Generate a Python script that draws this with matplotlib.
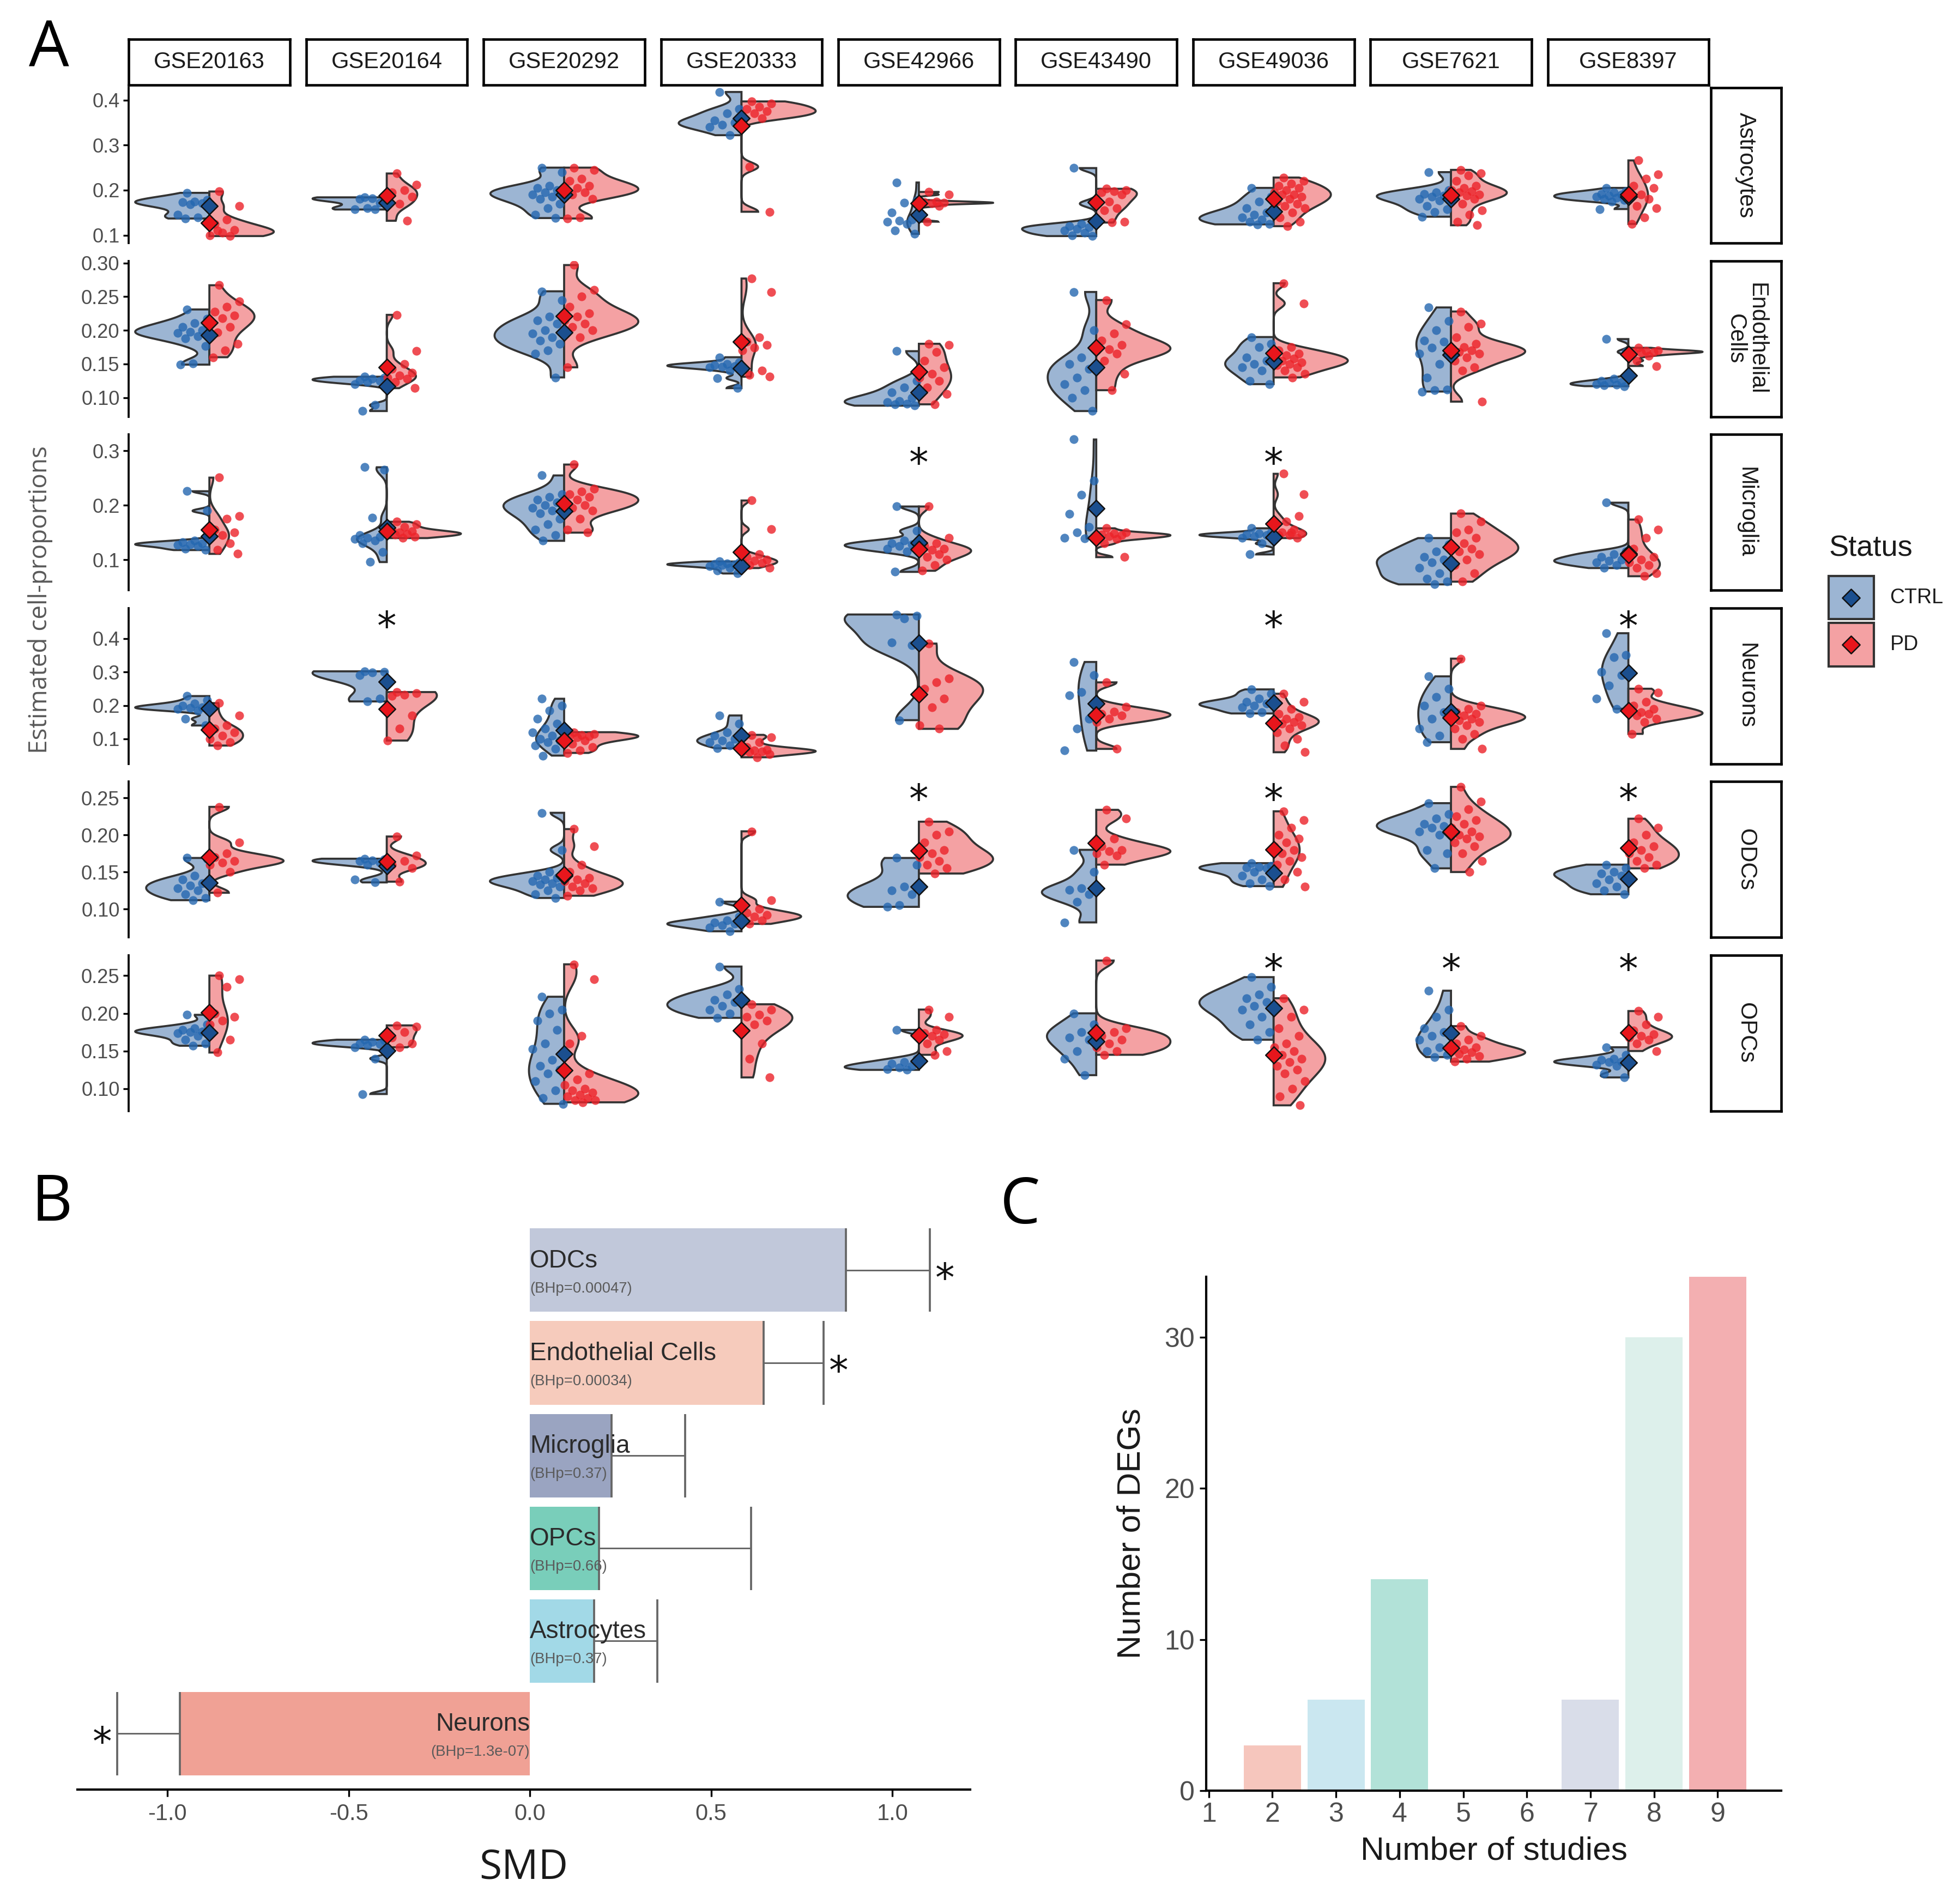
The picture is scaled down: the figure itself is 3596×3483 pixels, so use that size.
import numpy as np
import matplotlib
matplotlib.use("Agg")
import matplotlib.pyplot as plt
from matplotlib import font_manager
from matplotlib.patches import Rectangle
from matplotlib.transforms import offset_copy

installed = {f.name for f in font_manager.fontManager.ttflist}


def pick(*names):
    for name in names:
        if name in installed:
            return name
    return "DejaVu Sans"


SANS = pick("Liberation Sans", "Arial")
NARROW = pick("Liberation Sans Narrow", "Liberation Sans")
HUMAN = pick("Open Sans", "Noto Sans", "DejaVu Sans")
plt.rcParams["axes.unicode_minus"] = False

# ---------------- data: panel A (estimated cell proportions) ----------------
studies = ["GSE20163", "GSE20164", "GSE20292", "GSE20333", "GSE42966",
           "GSE43490", "GSE49036", "GSE7621", "GSE8397"]
cell_types = ["Astrocytes", "Endothelial\nCells", "Microglia", "Neurons", "ODCs", "OPCs"]

astro_ctrl = [
    [0.194, 0.178, 0.175, 0.173, 0.171, 0.168, 0.145, 0.140, 0.137],
    [0.184, 0.183, 0.182, 0.180, 0.172, 0.160, 0.158, 0.157],
    [0.25, 0.24, 0.21, 0.205, 0.20, 0.195, 0.19, 0.185, 0.18, 0.17, 0.16, 0.145, 0.138],
    [0.418, 0.380, 0.370, 0.355, 0.350, 0.345, 0.340, 0.322],
    [0.217, 0.177, 0.172, 0.150, 0.135, 0.132, 0.130, 0.125, 0.110, 0.103],
    [0.249, 0.170, 0.125, 0.120, 0.118, 0.114, 0.110, 0.105, 0.100, 0.098],
    [0.205, 0.185, 0.175, 0.160, 0.150, 0.145, 0.140, 0.135, 0.130, 0.125, 0.124],
    [0.240, 0.200, 0.195, 0.192, 0.188, 0.185, 0.180, 0.177, 0.165, 0.158, 0.152, 0.141],
    [0.205, 0.198, 0.195, 0.192, 0.19, 0.188, 0.185, 0.183, 0.18, 0.178, 0.175, 0.158],
]
astro_pd = [
    [0.197, 0.165, 0.135, 0.125, 0.112, 0.105, 0.100, 0.098, 0.110],
    [0.237, 0.212, 0.200, 0.195, 0.185, 0.170, 0.167, 0.132],
    [0.25, 0.245, 0.225, 0.22, 0.21, 0.205, 0.20, 0.195, 0.19, 0.18, 0.14, 0.137],
    [0.397, 0.392, 0.385, 0.380, 0.375, 0.370, 0.365, 0.360, 0.252, 0.152],
    [0.196, 0.190, 0.175, 0.173, 0.172, 0.171, 0.170, 0.165, 0.130],
    [0.203, 0.200, 0.198, 0.195, 0.190, 0.175, 0.170, 0.160, 0.155, 0.130, 0.128],
    [0.228, 0.22, 0.215, 0.21, 0.205, 0.20, 0.195, 0.19, 0.19, 0.185, 0.18, 0.175,
     0.17, 0.165, 0.16, 0.15, 0.14, 0.13, 0.12],
    [0.245, 0.238, 0.232, 0.22, 0.21, 0.205, 0.20, 0.198, 0.195, 0.19, 0.188, 0.185,
     0.18, 0.17, 0.155, 0.145, 0.13, 0.122],
    [0.266, 0.235, 0.225, 0.21, 0.205, 0.19, 0.185, 0.18, 0.165, 0.16, 0.14, 0.125],
]
endo_ctrl = [
    [0.231, 0.217, 0.211, 0.205, 0.200, 0.198, 0.196, 0.191, 0.188, 0.177, 0.151, 0.149],
    [0.131, 0.130, 0.128, 0.126, 0.125, 0.123, 0.120, 0.089, 0.080],
    [0.258, 0.245, 0.22, 0.215, 0.21, 0.20, 0.195, 0.19, 0.185, 0.18, 0.17, 0.165, 0.13],
    [0.160, 0.152, 0.150, 0.148, 0.147, 0.146, 0.145, 0.140, 0.129, 0.114],
    [0.169, 0.125, 0.115, 0.108, 0.100, 0.095, 0.093, 0.091, 0.090, 0.088],
    [0.257, 0.200, 0.160, 0.150, 0.143, 0.130, 0.120, 0.111, 0.100, 0.080],
    [0.19, 0.18, 0.175, 0.16, 0.155, 0.15, 0.145, 0.14, 0.125, 0.12],
    [0.234, 0.214, 0.200, 0.185, 0.183, 0.174, 0.165, 0.150, 0.130, 0.112, 0.111, 0.109],
    [0.187, 0.168, 0.128, 0.125, 0.123, 0.122, 0.120, 0.119, 0.118, 0.117],
]
endo_pd = [
    [0.267, 0.243, 0.235, 0.228, 0.222, 0.218, 0.215, 0.205, 0.197, 0.18, 0.17, 0.16],
    [0.223, 0.169, 0.150, 0.143, 0.137, 0.133, 0.130, 0.128, 0.123, 0.114],
    [0.297, 0.26, 0.25, 0.235, 0.225, 0.22, 0.215, 0.21, 0.205, 0.20, 0.19, 0.145],
    [0.277, 0.257, 0.190, 0.183, 0.178, 0.174, 0.170, 0.140, 0.134, 0.131],
    [0.180, 0.178, 0.168, 0.155, 0.145, 0.135, 0.130, 0.125, 0.115, 0.105, 0.090],
    [0.245, 0.209, 0.195, 0.185, 0.178, 0.172, 0.170, 0.165, 0.155, 0.135, 0.111],
    [0.270, 0.240, 0.175, 0.170, 0.165, 0.163, 0.160, 0.158, 0.155, 0.152, 0.150,
     0.148, 0.145, 0.140, 0.135, 0.130],
    [0.228, 0.21, 0.205, 0.19, 0.18, 0.175, 0.172, 0.17, 0.168, 0.165, 0.16, 0.155,
     0.145, 0.14, 0.094],
    [0.174, 0.170, 0.169, 0.168, 0.168, 0.167, 0.165, 0.162, 0.155, 0.147],
]
micro_ctrl = [
    [0.226, 0.190, 0.135, 0.132, 0.130, 0.128, 0.127, 0.125, 0.120, 0.118],
    [0.270, 0.265, 0.177, 0.145, 0.142, 0.140, 0.138, 0.135, 0.130, 0.114, 0.096],
    [0.255, 0.22, 0.215, 0.21, 0.205, 0.20, 0.195, 0.19, 0.185, 0.175, 0.165, 0.155, 0.145, 0.135],
    [0.097, 0.095, 0.093, 0.092, 0.091, 0.090, 0.088, 0.085, 0.080, 0.075],
    [0.198, 0.153, 0.135, 0.130, 0.128, 0.125, 0.120, 0.115, 0.078],
    [0.321, 0.245, 0.219, 0.184, 0.160, 0.150, 0.140, 0.139],
    [0.158, 0.150, 0.148, 0.146, 0.145, 0.143, 0.140, 0.130, 0.110],
    [0.140, 0.128, 0.115, 0.105, 0.100, 0.095, 0.085, 0.075, 0.065, 0.060, 0.055],
    [0.205, 0.115, 0.110, 0.105, 0.100, 0.098, 0.095, 0.090, 0.085],
]
micro_pd = [
    [0.251, 0.180, 0.175, 0.155, 0.150, 0.145, 0.142, 0.130, 0.118, 0.111],
    [0.170, 0.165, 0.160, 0.155, 0.152, 0.150, 0.148, 0.147, 0.146, 0.142, 0.140],
    [0.275, 0.23, 0.225, 0.22, 0.215, 0.21, 0.205, 0.20, 0.195, 0.19, 0.175, 0.155, 0.15],
    [0.209, 0.156, 0.110, 0.105, 0.100, 0.098, 0.096, 0.094, 0.090, 0.085],
    [0.198, 0.140, 0.130, 0.125, 0.120, 0.118, 0.115, 0.110, 0.105, 0.100, 0.090, 0.080],
    [0.158, 0.150, 0.148, 0.146, 0.145, 0.143, 0.140, 0.138, 0.130, 0.105],
    [0.258, 0.22, 0.15, 0.145, 0.18, 0.17, 0.16, 0.155, 0.15, 0.148, 0.145, 0.142, 0.14],
    [0.185, 0.17, 0.155, 0.15, 0.14, 0.13, 0.125, 0.12, 0.115, 0.11, 0.10, 0.09, 0.075, 0.06],
    [0.174, 0.155, 0.14, 0.12, 0.105, 0.10, 0.095, 0.09, 0.085, 0.075, 0.07],
]
neuron_ctrl = [
    [0.228, 0.215, 0.205, 0.200, 0.195, 0.192, 0.190, 0.185, 0.160, 0.140],
    [0.302, 0.300, 0.298, 0.290, 0.220, 0.212],
    [0.22, 0.20, 0.185, 0.16, 0.145, 0.13, 0.12, 0.11, 0.10, 0.095, 0.09, 0.08, 0.07, 0.05],
    [0.170, 0.145, 0.120, 0.110, 0.100, 0.095, 0.090, 0.080, 0.072],
    [0.472, 0.468, 0.460, 0.388, 0.380, 0.156],
    [0.330, 0.290, 0.240, 0.230, 0.160, 0.130, 0.065],
    [0.248, 0.235, 0.220, 0.210, 0.205, 0.200, 0.195, 0.180, 0.176],
    [0.287, 0.250, 0.225, 0.200, 0.180, 0.160, 0.130, 0.110, 0.090],
    [0.416, 0.350, 0.345, 0.300, 0.290, 0.260, 0.220, 0.190],
]
neuron_pd = [
    [0.207, 0.170, 0.140, 0.130, 0.120, 0.110, 0.100, 0.090, 0.080],
    [0.240, 0.236, 0.232, 0.228, 0.170, 0.130, 0.095],
    [0.120, 0.115, 0.112, 0.110, 0.108, 0.105, 0.100, 0.095, 0.085, 0.075, 0.065, 0.058],
    [0.112, 0.105, 0.090, 0.075, 0.068, 0.065, 0.063, 0.062, 0.060, 0.055, 0.045],
    [0.385, 0.280, 0.270, 0.250, 0.220, 0.195, 0.140, 0.130],
    [0.269, 0.196, 0.182, 0.175, 0.170, 0.160, 0.150, 0.070],
    [0.235, 0.210, 0.190, 0.175, 0.165, 0.160, 0.155, 0.150, 0.145, 0.140, 0.130,
     0.120, 0.100, 0.080, 0.060],
    [0.340, 0.200, 0.190, 0.180, 0.175, 0.170, 0.165, 0.160, 0.155, 0.150, 0.140,
     0.130, 0.115, 0.100, 0.070],
    [0.250, 0.238, 0.210, 0.200, 0.190, 0.180, 0.178, 0.175, 0.170, 0.160, 0.150, 0.115],
]
odc_ctrl = [
    [0.169, 0.168, 0.145, 0.140, 0.135, 0.132, 0.128, 0.125, 0.120, 0.115, 0.112],
    [0.168, 0.167, 0.166, 0.165, 0.163, 0.160, 0.140, 0.136],
    [0.230, 0.180, 0.150, 0.145, 0.142, 0.140, 0.138, 0.135, 0.133, 0.130, 0.125, 0.120, 0.115],
    [0.110, 0.090, 0.085, 0.082, 0.080, 0.078, 0.075, 0.070],
    [0.169, 0.160, 0.130, 0.125, 0.120, 0.105, 0.103],
    [0.180, 0.150, 0.128, 0.126, 0.120, 0.110, 0.082],
    [0.162, 0.158, 0.157, 0.156, 0.155, 0.150, 0.145, 0.140, 0.135, 0.131],
    [0.243, 0.228, 0.222, 0.215, 0.212, 0.210, 0.205, 0.200, 0.180, 0.175, 0.155],
    [0.160, 0.155, 0.150, 0.148, 0.145, 0.140, 0.135, 0.130, 0.125, 0.120],
]
odc_pd = [
    [0.238, 0.190, 0.175, 0.170, 0.165, 0.163, 0.160, 0.150, 0.122],
    [0.198, 0.172, 0.165, 0.160, 0.155, 0.137],
    [0.208, 0.185, 0.160, 0.150, 0.142, 0.140, 0.138, 0.135, 0.130, 0.128, 0.125, 0.118],
    [0.205, 0.112, 0.100, 0.095, 0.092, 0.090, 0.088, 0.085, 0.080],
    [0.218, 0.205, 0.200, 0.190, 0.180, 0.175, 0.170, 0.165, 0.160, 0.155, 0.148],
    [0.234, 0.222, 0.195, 0.185, 0.180, 0.178, 0.175, 0.172, 0.160],
    [0.232, 0.22, 0.21, 0.20, 0.195, 0.19, 0.185, 0.18, 0.175, 0.17, 0.165, 0.16,
     0.15, 0.14, 0.13],
    [0.265, 0.245, 0.235, 0.225, 0.220, 0.215, 0.210, 0.205, 0.200, 0.198, 0.195,
     0.190, 0.185, 0.175, 0.165, 0.150],
    [0.222, 0.210, 0.200, 0.190, 0.185, 0.180, 0.175, 0.170, 0.165, 0.160, 0.155],
]
opc_ctrl = [
    [0.198, 0.185, 0.180, 0.178, 0.176, 0.175, 0.174, 0.170, 0.165, 0.160, 0.157],
    [0.165, 0.164, 0.162, 0.160, 0.159, 0.158, 0.155, 0.140, 0.093],
    [0.222, 0.205, 0.200, 0.190, 0.178, 0.160, 0.153, 0.138, 0.130, 0.125, 0.120,
     0.110, 0.098, 0.088, 0.080],
    [0.262, 0.232, 0.225, 0.218, 0.215, 0.210, 0.205, 0.200, 0.194],
    [0.178, 0.140, 0.135, 0.133, 0.130, 0.128, 0.126, 0.125],
    [0.200, 0.185, 0.175, 0.168, 0.165, 0.150, 0.140, 0.118],
    [0.248, 0.235, 0.225, 0.220, 0.215, 0.210, 0.205, 0.195, 0.185, 0.175, 0.165],
    [0.230, 0.205, 0.195, 0.180, 0.175, 0.170, 0.165, 0.155, 0.150, 0.145, 0.142],
    [0.155, 0.145, 0.140, 0.138, 0.136, 0.135, 0.132, 0.130, 0.120, 0.115],
]
opc_pd = [
    [0.250, 0.245, 0.235, 0.200, 0.195, 0.190, 0.185, 0.165, 0.148],
    [0.184, 0.182, 0.175, 0.168, 0.160, 0.155],
    [0.265, 0.245, 0.170, 0.160, 0.120, 0.112, 0.105, 0.100, 0.098, 0.095, 0.092,
     0.090, 0.088, 0.085, 0.085, 0.082],
    [0.212, 0.205, 0.198, 0.195, 0.190, 0.185, 0.175, 0.160, 0.140, 0.115],
    [0.205, 0.195, 0.178, 0.174, 0.172, 0.170, 0.168, 0.165, 0.160, 0.150, 0.145],
    [0.270, 0.180, 0.175, 0.170, 0.165, 0.160, 0.155, 0.150, 0.145],
    [0.220, 0.205, 0.195, 0.180, 0.170, 0.160, 0.155, 0.150, 0.145, 0.140, 0.135,
     0.130, 0.125, 0.120, 0.110, 0.100, 0.090, 0.078],
    [0.183, 0.170, 0.165, 0.160, 0.155, 0.152, 0.150, 0.148, 0.146, 0.143, 0.140, 0.136],
    [0.203, 0.195, 0.185, 0.177, 0.172, 0.170, 0.168, 0.165, 0.160, 0.150],
]

significant = {
    "Microglia": ["GSE42966", "GSE49036"],
    "Neurons": ["GSE20164", "GSE49036", "GSE8397"],
    "ODCs": ["GSE42966", "GSE49036", "GSE8397"],
    "OPCs": ["GSE49036", "GSE7621", "GSE8397"],
}

# ---------------- data: panel B (meta-analysis SMD) ----------------
smd_cells = ["Neurons", "Astrocytes", "OPCs", "Microglia", "Endothelial Cells", "ODCs"]
smd = [-0.966, 0.177, 0.190, 0.225, 0.645, 0.872]
smd_upper = [-1.138, 0.352, 0.610, 0.428, 0.810, 1.103]
bh_p = ["1.3e-07", "0.37", "0.66", "0.37", "0.00034", "0.00047"]
smd_sig = [True, False, False, False, True, True]

# ---------------- data: panel C (DEG overlap) ----------------
n_studies = [2, 3, 4, 7, 8, 9]
n_degs = [3, 6, 14, 6, 30, 34]

# ---------------- styling / layout ----------------
W_D, H_D = 1568.0, 1519.0   # layout grid units
row_data = [(astro_ctrl, astro_pd), (endo_ctrl, endo_pd), (micro_ctrl, micro_pd),
            (neuron_ctrl, neuron_pd), (odc_ctrl, odc_pd), (opc_ctrl, opc_pd)]
row_ylim = [(0.082, 0.428), (0.0714, 0.303), (0.044, 0.330),
            (0.025, 0.491), (0.0616, 0.272), (0.0704, 0.277)]
row_ticks = [[0.1, 0.2, 0.3, 0.4], [0.10, 0.15, 0.20, 0.25, 0.30], [0.1, 0.2, 0.3],
             [0.1, 0.2, 0.3, 0.4], [0.10, 0.15, 0.20, 0.25], [0.10, 0.15, 0.20, 0.25]]
row_fmt = ["%.1f", "%.2f", "%.1f", "%.1f", "%.2f", "%.2f"]
star_level = [None, None, 0.293, 0.46, 0.259, 0.269]

CTRL_FILL, PD_FILL = "#9CB5D3", "#F4A1A3"
CTRL_PT, PD_PT = "#2467B0", "#EC2229"
CTRL_MEAN, PD_MEAN = "#1B4F8F", "#E8161C"
OUTLINE = "#333333"
TICK_GREY = "#4D4D4D"

bar_colors = ["#F0A195", "#A2D9E7", "#79CEBA", "#9AA4C1", "#F6CBBC", "#C1C8DA"]
deg_colors = ["#F6C6BD", "#CAE7F0", "#B2E2D8", "#D9DDE9", "#DDF0EB", "#F3AFB1"]


def rect(x0, y0, x1, y1):
    return [x0 / W_D, 1 - y1 / H_D, (x1 - x0) / W_D, (y1 - y0) / H_D]


def density(vals):
    v = np.asarray(vals, dtype=float)
    sd = v.std(ddof=1)
    q75, q25 = np.percentile(v, [75, 25])
    lo = min(sd, (q75 - q25) / 1.34)
    if lo <= 0:
        lo = sd
    bw = 0.9 * lo * len(v) ** -0.2
    grid = np.linspace(v.min(), v.max(), 512)
    dens = np.exp(-0.5 * ((grid[:, None] - v[None, :]) / bw) ** 2).sum(1)
    return grid, dens / (len(v) * bw * np.sqrt(2 * np.pi))


def jitter(n, centre):
    return centre + ((np.arange(n) * 0.618034 + 0.31) % 1.0 - 0.5) * 0.2


fig = plt.figure(figsize=(3596 / 300, 3483 / 300), dpi=300)

# ---------------- panel A ----------------
col_x0 = [103 + c * 141.9 for c in range(9)]
row_y0 = [70 + r * 138.9 for r in range(6)]
pw, ph = 129, 124.7
half = 0.46

for r, cell in enumerate(cell_types):
    ctrl_sets, pd_sets = row_data[r]
    for c, study in enumerate(studies):
        ax = fig.add_axes(rect(col_x0[c], row_y0[r], col_x0[c] + pw, row_y0[r] + ph))
        g1, d1 = density(ctrl_sets[c])
        g2, d2 = density(pd_sets[c])
        top = max(d1.max(), d2.max())
        ax.fill(np.r_[0, -half * d1 / top, 0], np.r_[g1[0], g1, g1[-1]],
                fc=CTRL_FILL, ec=OUTLINE, lw=0.9, zorder=1)
        ax.fill(np.r_[0, half * d2 / top, 0], np.r_[g2[0], g2, g2[-1]],
                fc=PD_FILL, ec=OUTLINE, lw=0.9, zorder=1)
        ax.scatter(jitter(len(ctrl_sets[c]), -0.1), ctrl_sets[c], s=15, color=CTRL_PT,
                   alpha=0.8, lw=0, zorder=2)
        ax.scatter(jitter(len(pd_sets[c]), 0.1), pd_sets[c], s=15, color=PD_PT,
                   alpha=0.8, lw=0, zorder=2)
        ax.scatter([0], [np.mean(ctrl_sets[c])], marker="D", s=27, color=CTRL_MEAN,
                   ec="#111111", lw=0.6, zorder=3)
        ax.scatter([0], [np.mean(pd_sets[c])], marker="D", s=27, color=PD_MEAN,
                   ec="#111111", lw=0.6, zorder=4)
        key = cell.replace("\n", " ")
        if study in significant.get(key, []):
            tr = offset_copy(ax.transData, fig=fig, y=-4.5, units="points")
            ax.text(0, star_level[r], "*", transform=tr, ha="center", va="center",
                    fontsize=17, family="DejaVu Sans", color="#111111")
        ax.set_xlim(-0.5, 0.5)
        ax.set_ylim(*row_ylim[r])
        ax.patch.set_alpha(0)
        for side in ["top", "right", "bottom"]:
            ax.spines[side].set_visible(False)
        ax.set_xticks([])
        if c == 0:
            ax.spines["left"].set_linewidth(0.9)
            ax.set_yticks(row_ticks[r])
            ax.set_yticklabels([row_fmt[r] % t for t in row_ticks[r]])
            ax.tick_params(axis="y", length=2.5, width=0.8, pad=1.5,
                           labelsize=8.7, labelcolor=TICK_GREY)
            for lab in ax.get_yticklabels():
                lab.set_family(SANS)
        else:
            ax.spines["left"].set_visible(False)
            ax.set_yticks([])

# column strips
for c, study in enumerate(studies):
    sx = fig.add_axes(rect(col_x0[c], 31.5, col_x0[c] + pw, 68))
    sx.set_xticks([])
    sx.set_yticks([])
    for sp in sx.spines.values():
        sp.set_linewidth(1.1)
    sx.text(0.5, 0.5, study, ha="center", va="center", fontsize=10, family=SANS,
            color="#1A1A1A", transform=sx.transAxes)

# row strips
for r, cell in enumerate(cell_types):
    sx = fig.add_axes(rect(1368.6, row_y0[r], 1425, row_y0[r] + ph))
    sx.set_xticks([])
    sx.set_yticks([])
    for sp in sx.spines.values():
        sp.set_linewidth(1.1)
    sx.text(0.5, 0.5, cell, ha="center", va="center", rotation=-90, fontsize=10,
            family=SANS, color="#1A1A1A", multialignment="center",
            linespacing=0.95, transform=sx.transAxes)

fig.text(32 / W_D, 1 - 480 / H_D, "Estimated cell-proportions", rotation=90,
         ha="center", va="center", fontsize=11, family=HUMAN, color="#5A5A5A")

# legend
lg = fig.add_axes(rect(1450, 410, 1568, 545))
lg.set_xlim(1450, 1568)
lg.set_ylim(545, 410)
lg.axis("off")
lg.text(1463, 445, "Status", fontsize=13, family=SANS, color="#1A1A1A", va="baseline")
for (y0, fill, mean_c, label) in [(461, CTRL_FILL, CTRL_MEAN, "CTRL"),
                                  (498.6, PD_FILL, PD_MEAN, "PD")]:
    lg.add_patch(Rectangle((1463, y0), 36, 34.6, fc=fill, ec=OUTLINE, lw=1.0))
    lg.scatter([1481], [y0 + 17.3], marker="D", s=30, color=mean_c, ec="#111111",
               lw=0.6, zorder=3)
    lg.text(1512, y0 + 17.3, label, fontsize=9, family=SANS, color="#1A1A1A",
            va="center")

# ---------------- panel B ----------------
axb = fig.add_axes(rect(62, 972, 776, 1432))
pos = np.arange(len(smd_cells))
axb.barh(pos, smd, height=0.9, color=bar_colors, zorder=1)
for i in pos:
    axb.hlines(i, smd[i], smd_upper[i], color="#666666", lw=0.7, zorder=2)
    axb.vlines([smd[i], smd_upper[i]], i - 0.45, i + 0.45, color="#666666", lw=0.9,
               zorder=2)
    right = smd[i] < 0
    ha = "right" if right else "left"
    axb.text(0, i + 0.1, smd_cells[i], ha=ha, va="center", fontsize=11,
             family=NARROW, color="#2B2B2B", zorder=4)
    axb.text(0, i - 0.2, "(BHp=%s)" % bh_p[i], ha=ha, va="center", fontsize=6.6,
             family=NARROW, color="#5A5A5A", zorder=4)
    if smd_sig[i]:
        off = -0.015 if right else 0.015
        tr = offset_copy(axb.transData, fig=fig, y=-4.5, units="points")
        axb.text(smd_upper[i] + off, i, "*", ha=ha, va="center", fontsize=17,
                 family="DejaVu Sans", color="#111111", transform=tr)
axb.set_xlim(-1.248, 1.214)
axb.set_ylim(-0.6, len(smd_cells) - 0.4)
for side in ["top", "right", "left"]:
    axb.spines[side].set_visible(False)
axb.spines["bottom"].set_linewidth(1.0)
axb.set_yticks([])
axb.set_xticks([-1.0, -0.5, 0.0, 0.5, 1.0])
axb.set_xticklabels(["%.1f" % t for t in [-1.0, -0.5, 0.0, 0.5, 1.0]])
axb.tick_params(axis="x", length=3, width=0.8, labelsize=10, labelcolor=TICK_GREY, pad=3)
for lab in axb.get_xticklabels():
    lab.set_family(NARROW)
axb.set_xlabel("SMD", fontsize=18, family=HUMAN, color="#1A1A1A", labelpad=10)
axb.patch.set_alpha(0)

# ---------------- panel C ----------------
axc = fig.add_axes(rect(965, 1022, 1425, 1433))
axc.bar(n_studies, n_degs, width=0.9, color=deg_colors)
axc.set_xlim(0.96, 10.0)
axc.set_ylim(0, 34)
for side in ["top", "right"]:
    axc.spines[side].set_visible(False)
for side in ["left", "bottom"]:
    axc.spines[side].set_linewidth(1.0)
axc.set_xticks(range(1, 10))
axc.set_yticks([0, 10, 20, 30])
axc.tick_params(length=3, width=0.8, labelsize=12, labelcolor=TICK_GREY, pad=2)
for lab in axc.get_xticklabels() + axc.get_yticklabels():
    lab.set_family(NARROW)
axc.set_xlabel("Number of studies", fontsize=14.5, family=NARROW, color="#1A1A1A",
               labelpad=4)
axc.set_ylabel("Number of DEGs", fontsize=14.5, family=SANS, color="#1A1A1A",
               labelpad=8)

# panel letters
fig.text(23 / W_D, 1 - 53.6 / H_D, "A", fontsize=28, family=HUMAN, va="baseline")
fig.text(25 / W_D, 1 - 977 / H_D, "B", fontsize=28, family=HUMAN, va="baseline")
fig.text(800 / W_D, 1 - 979 / H_D, "C", fontsize=28, family=HUMAN, va="baseline")

fig.savefig("out.png", dpi=300, facecolor="white")
